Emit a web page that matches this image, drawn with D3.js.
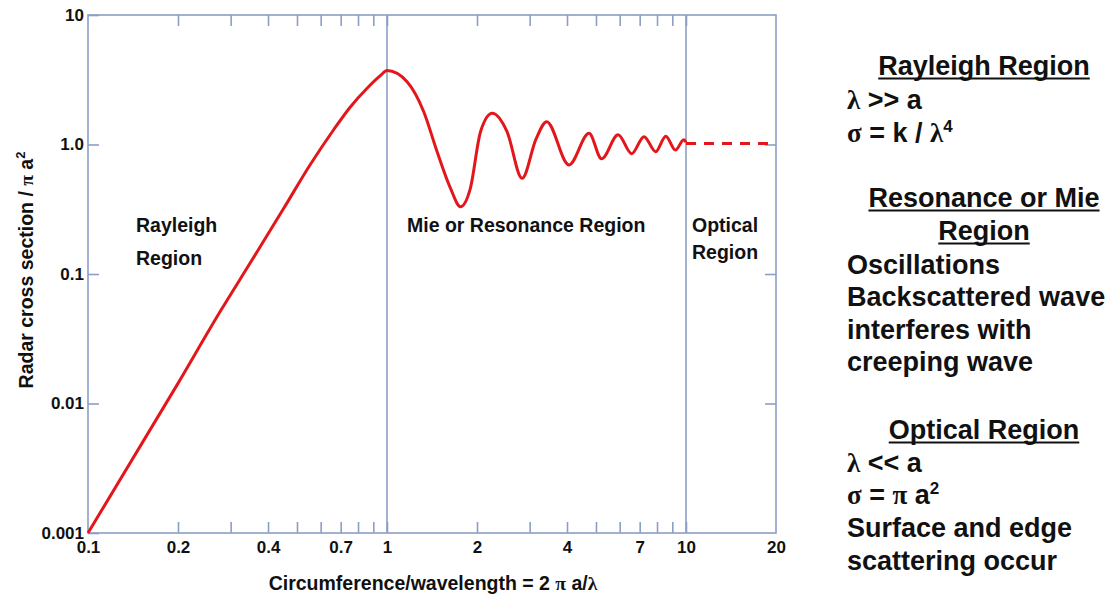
<!DOCTYPE html>
<html>
<head>
<meta charset="utf-8">
<script src="https://cdn.jsdelivr.net/npm/d3@7"></script>
<style>
  body { margin: 0; background: #fff; }
  text { font-family: "Liberation Sans", Arial, sans-serif; font-weight: bold; fill: #111; }
  .greek { font-family: "Liberation Serif", "Times New Roman", serif; }
</style>
</head>
<body>
<svg width="1114" height="600"></svg>
<script>
// curve: circumference/wavelength vs sigma / (pi a^2)
var ka = [0.1, 0.2, 0.277, 0.349, 0.451, 0.554, 0.663, 0.754, 0.858, 0.95, 1.0,
          1.167, 1.327, 1.471, 1.631, 1.76, 1.90, 2.055, 2.25, 2.52, 2.83, 3.15, 3.42,
          4.06, 4.74, 5.22, 5.93, 6.58, 7.24, 7.92, 8.56, 9.22, 9.83, 10];
var rcs = [0.001, 0.0143, 0.0515, 0.122, 0.32, 0.70, 1.30, 1.95, 2.72, 3.40, 3.72,
           3.05, 1.79, 0.88, 0.459, 0.331, 0.459, 1.256, 1.74, 1.256, 0.548, 1.10, 1.50,
           0.695, 1.22, 0.775, 1.19, 0.85, 1.15, 0.88, 1.16, 0.905, 1.09, 1.04];
var opticalKa = [10, 20];
var opticalRcs = [1.02, 1.02];

var xMinor = [0.2, 0.3, 0.4, 0.5, 0.6, 0.7, 0.8, 0.9, 1, 2, 3, 4, 5, 6, 7, 8, 9, 10];
var xLabels = [0.1, 0.2, 0.4, 0.7, 1, 2, 4, 7, 10, 20];
var yTicks = [0.001, 0.01, 0.1, 1, 10];
var yLabels = ["0.001", "0.01", "0.1", "1.0", "10"];

(function() {
var svg = d3.select("svg");
var mLeft = 88, mRight = 776, mTop = 15, mBottom = 533;
var frameColor = "#8d9ec6";

var x = d3.scaleLog().domain([0.1, 20]).range([mLeft, mRight]);
var y = d3.scaleLog().domain([0.001, 10]).range([mBottom, mTop]);

svg.append("rect").attr("width", 1114).attr("height", 600).attr("fill", "#fff");

// frame
svg.append("rect")
  .attr("x", mLeft).attr("y", mTop)
  .attr("width", mRight - mLeft).attr("height", mBottom - mTop)
  .attr("fill", "none").attr("stroke", frameColor).attr("stroke-width", 1.6);

// region dividers
svg.selectAll(".divider")
  .data([1, 10])
  .enter().append("line")
  .attr("x1", function(d) { return x(d); })
  .attr("x2", function(d) { return x(d); })
  .attr("y1", mTop).attr("y2", mBottom)
  .attr("stroke", frameColor).attr("stroke-width", 1.6);

function styleAxis(g) {
  g.attr("font-size", 17).attr("font-family", null);
  g.select(".domain").remove();
  g.selectAll(".tick line").attr("stroke", frameColor).attr("stroke-width", 1.6);
  g.selectAll(".tick text")
    .attr("fill", "#111")
    .attr("font-size", 17);
}

// bottom ticks (inward)
svg.append("g")
  .attr("transform", "translate(0," + mBottom + ")")
  .call(d3.axisBottom(x).tickValues(xMinor).tickSize(-11).tickFormat(""))
  .call(styleAxis);

// bottom labels
svg.append("g")
  .attr("transform", "translate(0," + mBottom + ")")
  .call(d3.axisBottom(x).tickValues(xLabels).tickSize(0).tickPadding(8)
    .tickFormat(function(d) { return String(d); }))
  .call(styleAxis);

// top ticks
svg.append("g")
  .attr("transform", "translate(0," + mTop + ")")
  .call(d3.axisTop(x).tickValues(xMinor).tickSize(-11).tickFormat(""))
  .call(styleAxis);

// left axis
svg.append("g")
  .attr("transform", "translate(" + mLeft + ",0)")
  .call(d3.axisLeft(y).tickValues(yTicks).tickSize(-11).tickPadding(4)
    .tickFormat(function(d, i) { return yLabels[i]; }))
  .call(styleAxis);

// right ticks
svg.append("g")
  .attr("transform", "translate(" + mRight + ",0)")
  .call(d3.axisRight(y).tickValues([0.01, 0.1, 1]).tickSize(-11).tickFormat(""))
  .call(styleAxis);

// curve
var pts = ka.map(function(d, i) { return [d, rcs[i]]; });
var line = d3.line()
  .x(function(d) { return x(d[0]); })
  .y(function(d) { return y(d[1]); })
  .curve(d3.curveMonotoneX);

svg.append("path")
  .attr("d", line(pts))
  .attr("fill", "none").attr("stroke", "#e3171b").attr("stroke-width", 3)
  .attr("stroke-linejoin", "round");

svg.append("path")
  .attr("d", d3.line().x(function(d) { return x(d[0]); }).y(function(d) { return y(d[1]); })
    (opticalKa.map(function(d, i) { return [d, opticalRcs[i]]; })))
  .attr("fill", "none").attr("stroke", "#e3171b").attr("stroke-width", 3)
  .attr("stroke-dasharray", "10,8");

// region labels
function label(t, px, py, size) {
  return svg.append("text").attr("x", px).attr("y", py).style("font-size", size + "px").text(t);
}
label("Rayleigh", 136, 232, 19.5);
label("Region", 136, 265, 19.5);
label("Mie or Resonance Region", 407, 232, 19.5);
label("Optical", 692, 232, 19.5);
label("Region", 692, 259, 19.5);

// axis titles
svg.append("text")
  .attr("x", 433).attr("y", 590)
  .attr("text-anchor", "middle")
  .style("font-size", "19.5px")
  .html('Circumference/wavelength = 2 <tspan class="greek">π</tspan> a/<tspan class="greek">λ</tspan>');

svg.append("text")
  .attr("transform", "translate(33,270) rotate(-90)")
  .attr("text-anchor", "middle")
  .style("font-size", "19.5px")
  .html('Radar cross section / <tspan class="greek">π</tspan> a<tspan dy="-8" style="font-size:13px">2</tspan>');

// right-hand notes
var notes = svg.append("g").style("font-size", "27px");
var cx = 984, lx = 847;

function heading(t, py) {
  var tx = notes.append("text").attr("x", cx).attr("y", py).attr("text-anchor", "middle").text(t);
  var w = tx.node().getComputedTextLength();
  notes.append("line")
    .attr("x1", cx - w / 2).attr("x2", cx + w / 2)
    .attr("y1", py + 3.5).attr("y2", py + 3.5)
    .attr("stroke", "#111").attr("stroke-width", 2.2);
}
function body(h, py) {
  notes.append("text").attr("x", lx).attr("y", py).html(h);
}

heading("Rayleigh Region", 75);
body('<tspan class="greek">λ</tspan> &gt;&gt; a', 109);
body('<tspan class="greek">σ</tspan> = k / <tspan class="greek">λ</tspan><tspan dy="-10" style="font-size:17px">4</tspan>', 142);
heading("Resonance or Mie", 207);
heading("Region", 240);
body("Oscillations", 274);
body("Backscattered wave", 306);
body("interferes with", 339);
body("creeping wave", 371);
heading("Optical Region", 439);
body('<tspan class="greek">λ</tspan> &lt;&lt; a', 472);
body('<tspan class="greek">σ</tspan> = <tspan class="greek">π</tspan> a<tspan dy="-10" style="font-size:17px">2</tspan>', 504);
body("Surface and edge", 537);
body("scattering occur", 570);
})();
</script>
</body>
</html>
